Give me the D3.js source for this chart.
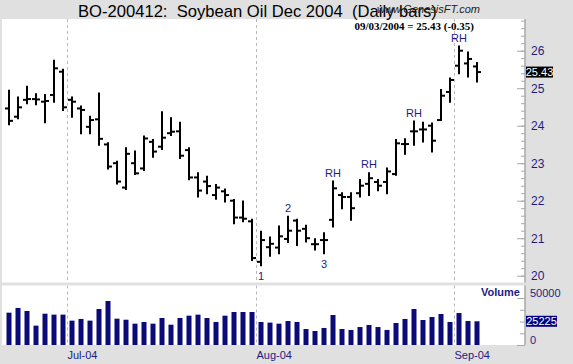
<!DOCTYPE html>
<html>
<head>
<meta charset="utf-8">
<script src="https://cdn.jsdelivr.net/npm/d3@7"></script>
<style>
body { margin: 0; background: #e0e0e0; }
svg { display: block; }
text { font-family: "Liberation Sans", Arial, sans-serif; }
</style>
</head>
<body>
<svg id="chart" width="573" height="364"></svg>
<script>
const dates = [
  "2004-06-22","2004-06-23","2004-06-24","2004-06-25","2004-06-28","2004-06-29","2004-06-30",
  "2004-07-01","2004-07-02","2004-07-06","2004-07-07","2004-07-08","2004-07-09","2004-07-12",
  "2004-07-13","2004-07-14","2004-07-15","2004-07-16","2004-07-19","2004-07-20","2004-07-21",
  "2004-07-22","2004-07-23","2004-07-26","2004-07-27","2004-07-28","2004-07-29","2004-07-30",
  "2004-08-02","2004-08-03","2004-08-04","2004-08-05","2004-08-06","2004-08-09","2004-08-10",
  "2004-08-11","2004-08-12","2004-08-13","2004-08-16","2004-08-17","2004-08-18","2004-08-19",
  "2004-08-20","2004-08-23","2004-08-24","2004-08-25","2004-08-26","2004-08-27","2004-08-30",
  "2004-08-31","2004-09-01","2004-09-02","2004-09-03"
];
const open = [24.46,24.24,24.69,24.71,24.64,24.82,25.44,24.69,24.46,23.97,24.17,23.50,23.00,22.35,
  23.00,22.86,23.57,23.44,23.80,23.85,23.35,22.62,22.51,22.15,22.25,22.00,21.55,21.45,
  20.37,20.76,20.75,20.98,21.47,21.25,20.84,20.95,21.49,22.15,22.10,22.20,22.45,22.50,
  22.50,22.71,23.51,23.85,23.90,24.00,24.15,24.90,25.60,25.66,25.58];
const high = [24.93,24.75,25.04,24.84,24.82,25.73,25.49,24.75,24.51,24.24,24.86,23.53,23.04,23.40,
  23.31,23.71,23.62,24.36,24.20,24.08,23.40,22.73,22.64,22.42,22.30,22.02,21.98,21.49,
  21.17,21.02,21.31,21.57,21.49,21.33,20.97,21.13,22.51,22.20,22.20,22.55,22.73,22.55,
  22.86,23.62,23.64,24.11,24.08,24.06,24.95,25.26,26.11,25.95,25.67];
const low = [24.04,24.20,24.60,24.57,24.09,24.64,24.42,24.24,23.80,23.80,23.49,22.86,22.46,22.31,
  22.71,22.82,23.17,23.38,23.75,23.14,22.57,22.11,22.20,22.05,21.98,21.40,21.45,20.42,
  20.28,20.53,20.60,20.90,20.82,20.91,20.70,20.60,21.31,21.80,21.49,22.11,22.15,22.28,
  22.20,22.69,23.25,23.49,23.58,23.31,24.15,24.64,25.40,25.31,25.18];
const close = [24.13,24.49,24.71,24.70,24.66,25.53,24.49,24.64,24.42,24.15,23.65,22.91,22.51,23.25,
  22.73,23.66,23.31,23.68,23.84,23.20,22.62,22.27,22.39,22.35,22.15,21.55,21.52,20.47,
  20.95,20.85,21.05,21.20,21.20,21.00,20.84,20.95,22.33,22.10,21.80,22.40,22.60,22.40,
  22.78,23.53,23.51,23.85,23.90,23.60,24.80,25.22,26.00,25.78,25.43];
const volume = [34400,39400,36200,20600,33300,32300,32300,25900,27700,25900,38300,46800,28000,26900,
  22700,24500,22700,28700,21600,28700,31200,32300,28700,24500,31200,35100,35100,35100,
  24500,23800,22700,25500,24500,17000,14900,18100,31900,17000,16000,19100,21300,19100,
  16000,23400,27700,38300,26600,29800,33000,24500,34000,25500,25225];

const noteDates = ["2004-08-02","2004-08-05","2004-08-11","2004-08-12","2004-08-18","2004-08-25","2004-09-01"];
const noteTexts = ["1","2","3","RH","RH","RH","RH"];
const noteBelow = [true,false,true,false,false,false,false];

const priceTicks = [20,21,22,23,24,25,26];
const volumeTicks = [0,50000];

const navy = "#1c1c84";
const svg = d3.select("#chart");

const x = d3.scaleBand().domain(dates).range([4.5, 4.5 + dates.length * 9]);
const y = d3.scaleLinear().domain([20, 26]).range([275.7, 50.7]);
const yv = d3.scaleLinear().domain([0, 50000]).range([345, 298]);
const mid = d => x(d) + x.bandwidth() / 2;

// panels
svg.append("rect").attr("x", 2).attr("y", 19).attr("width", 523).attr("height", 263.5).attr("fill", "#fff");
svg.append("rect").attr("x", 2).attr("y", 285.5).attr("width", 523).attr("height", 59.5).attr("fill", "#fff");

// month gridlines
const monthStarts = dates.filter((d, i) => i > 0 && d.slice(5, 7) !== dates[i - 1].slice(5, 7));
const grid = svg.append("g").attr("stroke", "#b8b8b8").attr("stroke-dasharray", "3,3");
monthStarts.forEach(d => {
  grid.append("line").attr("x1", x(d)).attr("x2", x(d)).attr("y1", 19).attr("y2", 282.5);
  grid.append("line").attr("x1", x(d)).attr("x2", x(d)).attr("y1", 285.5).attr("y2", 345);
});
const fmt = d3.timeFormat("%b-%y");
svg.append("g").selectAll("text").data(monthStarts).join("text")
  .attr("x", d => x(d)).attr("y", 359).attr("font-size", 11).attr("fill", navy)
  .text(d => fmt(d3.timeParse("%Y-%m-%d")(d)));

// price axis
const pa = svg.append("g").attr("transform", "translate(525,0)");
pa.append("g").call(d3.axisLeft(y).tickValues(d3.range(20, 26.85, 0.2)).tickSize(4).tickFormat(""));
pa.append("g").call(d3.axisLeft(y).tickValues(priceTicks).tickSize(8).tickFormat(""));
pa.selectAll("path").attr("d", "M0,19V282.5");
pa.selectAll("line, path").attr("stroke", "#a8a8a8");
pa.append("g").call(d3.axisRight(y).tickValues(priceTicks).tickSize(0).tickPadding(6).tickFormat(d3.format("d")))
  .call(g => g.select(".domain").remove())
  .call(g => g.selectAll("text").attr("fill", navy).attr("font-size", 12).attr("font-family", "Liberation Sans, Arial, sans-serif"));

// volume axis
const va = svg.append("g").attr("transform", "translate(525,0)");
va.append("g").call(d3.axisLeft(yv).tickValues(d3.range(0, 50001, 12500)).tickSize(5).tickFormat(""));
va.append("g").call(d3.axisLeft(yv).tickValues(volumeTicks).tickSize(8).tickFormat(""));
va.selectAll("path").attr("d", "M0,285.5V345");
va.selectAll("line, path").attr("stroke", "#a8a8a8");
va.append("g").call(d3.axisRight(yv).tickValues(volumeTicks).tickSize(0).tickPadding(5).tickFormat(d3.format("d")))
  .call(g => g.select(".domain").remove())
  .call(g => g.selectAll("text").attr("fill", navy).attr("font-size", 11).attr("font-family", "Liberation Sans, Arial, sans-serif").attr("dy", "-0.1em"));

// price bars
const bars = svg.append("g").attr("stroke", "#000").attr("stroke-width", 2);
dates.forEach((d, i) => {
  const cx = mid(d);
  bars.append("line").attr("x1", cx).attr("x2", cx).attr("y1", y(high[i]) - 1).attr("y2", y(low[i]) + 1);
  bars.append("line").attr("x1", cx - 4).attr("x2", cx).attr("y1", y(open[i])).attr("y2", y(open[i]));
  bars.append("line").attr("x1", cx).attr("x2", cx + 4).attr("y1", y(close[i])).attr("y2", y(close[i]));
});

// volume bars
svg.append("g").selectAll("rect").data(dates).join("rect")
  .attr("x", d => mid(d) - 2.5).attr("width", 5)
  .attr("y", (d, i) => yv(volume[i])).attr("height", (d, i) => yv(0) - yv(volume[i]))
  .attr("fill", "#0a0a78");

// annotations
noteDates.forEach((d, k) => {
  const i = dates.indexOf(d);
  svg.append("text").attr("x", mid(d)).attr("text-anchor", "middle")
    .attr("y", noteBelow[k] ? y(low[i]) + 15 : y(high[i]) - 5)
    .attr("font-size", 11).attr("fill", navy).text(noteTexts[k]);
});

// last value boxes
const last = dates.length - 1;
svg.append("rect").attr("x", 526).attr("y", y(close[last]) - 5.5).attr("width", 27).attr("height", 11).attr("fill", "#000");
svg.append("text").attr("x", 539.5).attr("y", y(close[last]) + 4).attr("text-anchor", "middle")
  .attr("font-size", 11).attr("fill", "#fff").text(close[last].toFixed(2));
svg.append("rect").attr("x", 526).attr("y", yv(volume[last]) - 5.5).attr("width", 31).attr("height", 11).attr("fill", "#000080");
svg.append("text").attr("x", 541.5).attr("y", yv(volume[last]) + 4).attr("text-anchor", "middle")
  .attr("font-size", 11).attr("fill", "#fff").text(volume[last]);

svg.append("text").attr("x", 520).attr("y", 296).attr("text-anchor", "end")
  .attr("font-size", 11).attr("font-weight", "bold").attr("fill", navy).text("Volume");

// titles
svg.append("text").attr("x", 78).attr("y", 17).attr("font-size", 16.6).style("white-space", "pre")
  .attr("fill", "#000").text("BO-200412:  Soybean Oil Dec 2004  (Daily bars)");
svg.append("text").attr("x", 480).attr("y", 13).attr("text-anchor", "end").attr("font-size", 11)
  .attr("font-style", "italic").attr("fill", "#222").text("www.GenesisFT.com");
const chg = (close[last] - close[last - 1]).toFixed(2);
svg.append("text").attr("x", 474).attr("y", 30).attr("text-anchor", "end").attr("font-size", 11)
  .attr("font-weight", "bold").style("font-family", "'Liberation Serif', 'Times New Roman', serif")
  .text("09/03/2004 = " + close[last].toFixed(2) + " (" + chg + ")");
</script>
</body>
</html>
